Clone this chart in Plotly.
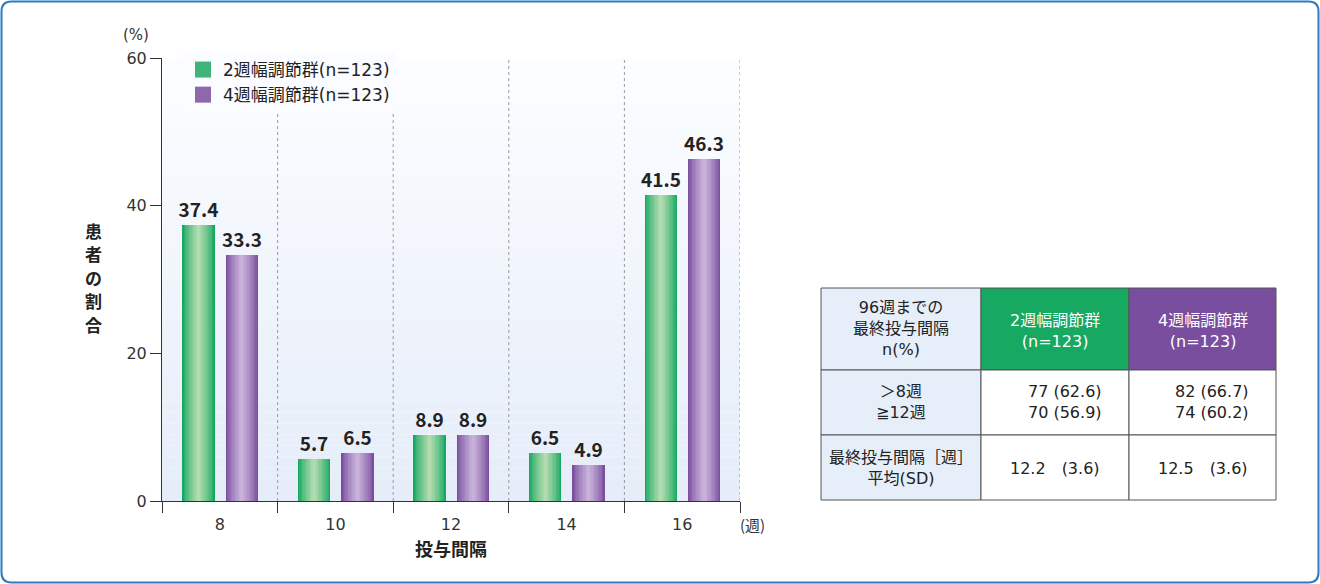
import plotly.graph_objects as go

# ---------------- data ----------------
categories = ["8", "10", "12", "14", "16"]
group2_values = [37.4, 5.7, 8.9, 6.5, 41.5]
group4_values = [33.3, 6.5, 8.9, 4.9, 46.3]
series_names = ["2週幅調節群(n=123)", "4週幅調節群(n=123)"]
y_tick_values = [0, 20, 40, 60]
y_title_chars = list("患者の割合")

table_header = ["96週までの<br>最終投与間隔<br>n(%)", "2週幅調節群<br>(n=123)", "4週幅調節群<br>(n=123)"]
table_row_labels = ["＞8週<br>≧12週", "最終投与間隔［週］<br>平均(SD)"]
table_group2 = ["77 (62.6)<br>70 (56.9)", "12.2　(3.6)"]
table_group4 = ["82 (66.7)<br>74 (60.2)", "12.5　(3.6)"]

# ---------------- style ----------------
FONT = "Noto Sans CJK JP"
FONT_MIX = "DejaVu Sans, Noto Sans CJK JP"
GREEN_EDGE, GREEN_MID = (23, 168, 98), (178, 220, 176)
PURPLE_EDGE, PURPLE_MID = (122, 78, 158), (200, 178, 218)
W, H = 1320, 584
PL, PR, PT, PB = 162, 740, 58, 501


def px(x):
    return (x - PL) / (PR - PL)


def py(y):
    return (PB - y) / (PB - PT)


def mix(a, b, t):
    return "rgb(%d,%d,%d)" % tuple(round(a[i] + (b[i] - a[i]) * t) for i in range(3))


fig = go.Figure()

BAR_W = 0.28
N_LAYERS = 12
for vals, off, edge, mid, name in [
    (group2_values, -0.325, GREEN_EDGE, GREEN_MID, series_names[0]),
    (group4_values, 0.05, PURPLE_EDGE, PURPLE_MID, series_names[1]),
]:
    for k in range(N_LAYERS):
        frac = k / N_LAYERS
        w = BAR_W * (1 - frac)
        o = off + BAR_W * frac / 2
        t = (k / (N_LAYERS - 1)) ** 0.8
        fig.add_trace(go.Bar(
            x=categories, y=vals, width=[w] * len(vals), offset=[o] * len(vals),
            marker=dict(color=mix(edge, mid, t), line=dict(width=0)),
            text=[f"{v:.1f}" for v in vals] if k == 0 else None,
            textposition="outside" if k == 0 else "none",
            constraintext="none",
            textfont=dict(family=FONT, size=19, color="#222222", weight="bold"),
            cliponaxis=False, showlegend=False, hoverinfo="skip",
        ))
    fig.add_trace(go.Scatter(
        x=[None], y=[None], mode="markers", name=name,
        marker=dict(symbol="square", size=19, color=mix(edge, mid, 0.25)),
    ))

shapes = []
# plot background gradient
NB = 40
for i in range(NB):
    t = i / (NB - 1)
    shapes.append(dict(type="rect", xref="x domain", yref="y domain",
                       x0=0, x1=1, y0=i / NB, y1=(i + 1) / NB, layer="below",
                       line=dict(width=0),
                       fillcolor=mix((229, 237, 249), (252, 253, 255), t)))
# dotted separators between categories
for b in range(len(categories)):
    shapes.append(dict(type="line", xref="x", yref="y", x0=b + 0.5, x1=b + 0.5,
                       y0=0, y1=60, layer="below",
                       line=dict(color="#9a9a9a", width=1, dash="dot")))

# table
cols = [821, 981, 1129, 1276]
rows = [288, 370, 435, 500]
fills = [["#e5eef9", mix(GREEN_EDGE, GREEN_EDGE, 0), mix(PURPLE_EDGE, PURPLE_EDGE, 0)],
         ["#e5eef9", "white", "white"],
         ["#e5eef9", "white", "white"]]
for r in range(3):
    for c in range(3):
        shapes.append(dict(type="rect", xref="paper", yref="paper",
                           x0=px(cols[c]), x1=px(cols[c + 1]),
                           y0=py(rows[r + 1]), y1=py(rows[r]),
                           fillcolor=fills[r][c], line=dict(color="#555555", width=1)))

# outer rounded border
r_px = 10
x0, x1, y0, y1 = 1.5, W - 1.5, 1.5, H - 1.5
path = (f"M {px(x0 + r_px)},{py(y0)} L {px(x1 - r_px)},{py(y0)} "
        f"Q {px(x1)},{py(y0)} {px(x1)},{py(y0 + r_px)} L {px(x1)},{py(y1 - r_px)} "
        f"Q {px(x1)},{py(y1)} {px(x1 - r_px)},{py(y1)} L {px(x0 + r_px)},{py(y1)} "
        f"Q {px(x0)},{py(y1)} {px(x0)},{py(y1 - r_px)} L {px(x0)},{py(y0 + r_px)} "
        f"Q {px(x0)},{py(y0)} {px(x0 + r_px)},{py(y0)} Z")
shapes.append(dict(type="path", xref="paper", yref="paper", path=path,
                   line=dict(color="#2a7bc4", width=2)))

ann = []


def add_text(x, y, text, size=16, color="#222222", bold=False, xanchor="center",
             align="center", family=FONT_MIX):
    ann.append(dict(xref="paper", yref="paper", x=px(x), y=py(y), text=text,
                    showarrow=False, xanchor=xanchor, yanchor="middle", align=align,
                    font=dict(family=family, size=size, color=color,
                              weight="bold" if bold else "normal")))


add_text(136, 35, "(%)", size=15, color="#333333")
add_text(752, 524, "(週)", size=15, color="#333333", family=FONT)
add_text(451, 548, "投与間隔", size=18, bold=True, family=FONT)
for i, ch in enumerate(y_title_chars):
    add_text(93, 230 + 23.5 * i, ch, size=17, bold=True, family=FONT)

# table texts
add_text((cols[0] + cols[1]) / 2, 328, table_header[0], size=16)
add_text((cols[1] + cols[2]) / 2, 331, table_header[1], size=16, color="white")
add_text((cols[2] + cols[3]) / 2, 331, table_header[2], size=16, color="white")
add_text((cols[0] + cols[1]) / 2, 402, table_row_labels[0], size=16)
add_text((cols[0] + cols[1]) / 2, 468, table_row_labels[1], size=16)
add_text(1104, 402, table_group2[0], size=16, xanchor="right", align="right")
add_text(1251, 402, table_group4[0], size=16, xanchor="right", align="right")
add_text((cols[1] + cols[2]) / 2, 468, table_group2[1], size=16)
add_text((cols[2] + cols[3]) / 2, 468, table_group4[1], size=16)

fig.update_layout(
    width=W, height=H,
    margin=dict(l=PL, r=W - PR, t=PT, b=H - PB, autoexpand=False),
    paper_bgcolor="white", plot_bgcolor="white",
    barmode="overlay", bargap=0,
    font=dict(family=FONT_MIX, size=16, color="#333333"),
    showlegend=True,
    legend=dict(x=px(183), y=py(52), xanchor="left", yanchor="top",
                bgcolor="rgba(251,252,255,1)",
                font=dict(family=FONT_MIX, size=17, color="#222222"),
                itemwidth=30, tracegroupgap=2),
    shapes=shapes, annotations=ann,
    xaxis=dict(type="category", categoryorder="array", categoryarray=categories,
               range=[-0.5, len(categories) - 0.5], showline=True, linecolor="#333333",
               linewidth=1, ticks="outside", tickson="boundaries", ticklen=11,
               tickcolor="#333333", showgrid=False, zeroline=False, ticklabelstandoff=9,
               tickfont=dict(family=FONT_MIX, size=16, color="#333333")),
    yaxis=dict(range=[0, 60], tickvals=y_tick_values, showline=True, linecolor="#333333",
               linewidth=1, ticks="outside", ticklen=11, tickcolor="#333333",
               showgrid=False, zeroline=False,
               tickfont=dict(family=FONT_MIX, size=16, color="#333333")),
)

fig.write_html("out.html", config={"displayModeBar": False},
               post_script="document.body.style.margin='0px';")
